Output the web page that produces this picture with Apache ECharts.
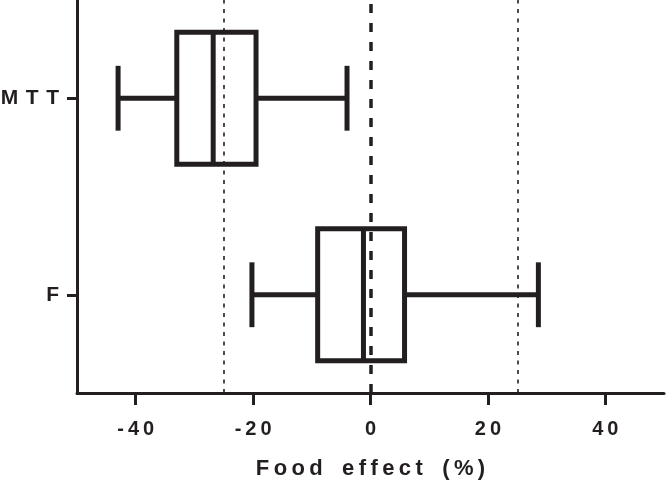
<!DOCTYPE html>
<html>
<head>
<meta charset="utf-8">
<script src="https://cdn.jsdelivr.net/npm/echarts@6/dist/echarts.min.js"></script>
<style>html,body{margin:0;padding:0;background:#fff}#c{width:666px;height:482px}</style>
</head>
<body>
<div id="c"></div>
<script>
const categories = ['F', 'MTT'];
const mins    = [-20.2, -43.0];
const q1s     = [-9.0, -33.0];
const medians = [-1.2, -26.8];
const q3s     = [5.8, -19.5];
const maxs    = [28.6, -4.0];
const xTicks  = [-40, -20, 0, 20, 40];
const zeroLine = 0;
const boundLines = [-25, 25];
const xTitle = 'Food effect (%)';

const ink = '#231f20';
const font = 'Liberation Sans';
const THIN = '\u2009';
const HAIR = '\u200A';
// letter-spaced text: thin space between letters, wider gap between words
const spaced = (s, sep, wordSep) => String(s).split(' ').map(w => w.split('').join(sep)).join(wordSep || ' ');

const boxData = categories.map((c, i) => [i, mins[i], q1s[i], medians[i], q3s[i], maxs[i]]);

// layout
const L = 77, R = 2, T = 0, B = 89, W = 666 - L - R;
const xMin = -50, xMax = 50;
const pxPerUnit = W / (xMax - xMin);
const tMin = xTicks[0], tMax = xTicks[xTicks.length - 1];

function renderBox(params, api) {
  const cat = api.value(0);
  const vMin = api.value(1), vQ1 = api.value(2), vMed = api.value(3), vQ3 = api.value(4), vMax = api.value(5);
  const cy = api.coord([0, cat])[1];
  const band = api.size([0, 1])[1];
  const boxH = band * 0.672;
  const capH = band * 0.33;
  const px = v => api.coord([v, cat])[0];
  const st = {stroke: ink, lineWidth: 5, fill: null};
  return {
    type: 'group',
    children: [
      {type: 'line', shape: {x1: px(vMin), y1: cy, x2: px(vQ1), y2: cy}, style: st},
      {type: 'line', shape: {x1: px(vQ3), y1: cy, x2: px(vMax), y2: cy}, style: st},
      {type: 'line', shape: {x1: px(vMin), y1: cy - capH / 2, x2: px(vMin), y2: cy + capH / 2}, style: st},
      {type: 'line', shape: {x1: px(vMax), y1: cy - capH / 2, x2: px(vMax), y2: cy + capH / 2}, style: st},
      {type: 'rect', shape: {x: px(vQ1), y: cy - boxH / 2, width: px(vQ3) - px(vQ1), height: boxH},
        style: {fill: '#fff', stroke: ink, lineWidth: 5, lineJoin: 'miter'}},
      {type: 'line', shape: {x1: px(vMed), y1: cy - boxH / 2, x2: px(vMed), y2: cy + boxH / 2}, style: st}
    ]
  };
}

const chart = echarts.init(document.getElementById('c'), null, {renderer: 'canvas'});
chart.setOption({
  animation: false,
  backgroundColor: '#fff',
  grid: [
    {left: L, right: R, top: T, bottom: B, containLabel: false, outerBoundsMode: 'none'},
    {left: L + (tMin - xMin) * pxPerUnit, right: R + (xMax - tMax) * pxPerUnit, top: T, bottom: B,
      containLabel: false, outerBoundsMode: 'none'}
  ],
  xAxis: [
    {
      gridIndex: 0, type: 'value', min: xMin, max: xMax,
      axisLine: {show: true, onZero: false, lineStyle: {color: ink, width: 3}},
      axisTick: {show: false}, axisLabel: {show: false}, splitLine: {show: false}
    },
    {
      gridIndex: 1, type: 'value', min: tMin, max: tMax, interval: 20,
      name: spaced(xTitle, THIN, ' ' + THIN + THIN + THIN),
      nameLocation: 'middle', nameGap: 65,
      nameTextStyle: {color: ink, fontFamily: font, fontWeight: 'bold', fontSize: 22},
      axisLine: {show: false, onZero: false},
      axisTick: {show: true, length: 12, lineStyle: {color: ink, width: 3}},
      axisLabel: {color: ink, fontFamily: font, fontWeight: 'bold', fontSize: 20, margin: 26,
        formatter: v => spaced(v, THIN)},
      splitLine: {show: false}
    }
  ],
  yAxis: [
    {
      gridIndex: 0, type: 'category', data: categories,
      axisLine: {show: true, onZero: false, lineStyle: {color: ink, width: 3}},
      axisTick: {show: true, alignWithLabel: true, length: 10, lineStyle: {color: ink, width: 3}},
      axisLabel: {color: ink, fontFamily: font, fontWeight: 'bold', fontSize: 21, margin: 18,
        formatter: v => spaced(v, ' ' + HAIR)},
      splitLine: {show: false}
    },
    {gridIndex: 1, type: 'value', show: false}
  ],
  series: [
    {
      type: 'custom',
      xAxisIndex: 0, yAxisIndex: 0,
      data: boxData,
      encode: {x: [1, 2, 3, 4, 5], y: 0},
      renderItem: renderBox,
      silent: true,
      z: 2,
      markLine: {
        silent: true, symbol: ['none', 'none'], label: {show: false},
        animation: false,
        data: [
          {xAxis: zeroLine, lineStyle: {color: ink, width: 3.5, type: [9, 10]}},
          ...boundLines.map(v => ({xAxis: v, lineStyle: {color: ink, width: 1.6, type: [4, 5.5]}}))
        ]
      }
    }
  ]
});
</script>
</body>
</html>
